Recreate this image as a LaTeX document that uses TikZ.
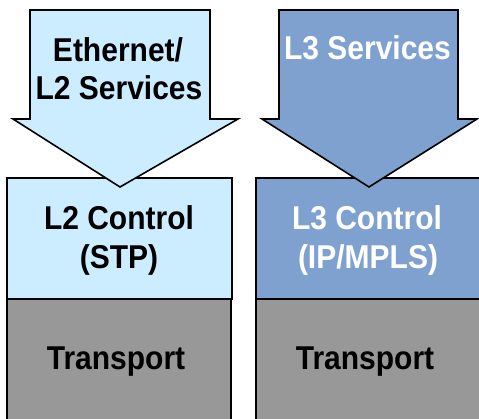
\documentclass[tikz,border=0pt]{standalone}
\usepackage{fontspec}
\setmainfont{Liberation Sans}
\begin{document}
\begin{tikzpicture}[x=1pt,y=-1pt,
  lay/.style={draw=black,line width=1.6pt},
  lbl/.style={font=\bfseries\fontsize{30}{34}\selectfont,anchor=base,inner sep=0pt},
  stretch/.style={yscale=1.1,transform shape}]
\definecolor{lblue}{HTML}{CCECFF}
\definecolor{dblue}{HTML}{7FA1CF}
\definecolor{tgray}{HTML}{989898}
\useasboundingbox (0,0) rectangle (479,419);
\clip (0,0) rectangle (479,419);
% left column
\filldraw[lay,fill=tgray] (7,299) rectangle (231,425);
\filldraw[lay,fill=lblue] (7,178) rectangle (232,299);
\filldraw[lay,fill=lblue,line join=miter] (30,10) -- (210,10) -- (210,119) -- (238,119) -- (120,187) -- (13,119) -- (30,119) -- cycle;
% right column
\filldraw[lay,fill=tgray] (256,299) rectangle (490,425);
\filldraw[lay,fill=dblue] (256,178) rectangle (490,299);
\filldraw[lay,fill=dblue,line join=miter] (279,10) -- (458,10) -- (458,119) -- (477,119) -- (369,187) -- (262,119) -- (279,119) -- cycle;
% labels
\node[lbl,stretch] (eth) at (118,62) {Ethernet/};
\node[lbl,stretch] (l2s) at (119,100) {L2 Services};
\node[lbl,stretch,white] (l3s) at (367.5,60) {L3 Services};
\node[lbl,stretch] (l2c) at (119,230) {L2 Control};
\node[lbl,stretch] (stp) at (119,269) {(STP)};
\node[lbl,stretch,white] (l3c) at (367,230) {L3 Control};
\node[lbl,stretch,white] (mpls) at (368,269) {(IP/MPLS)};
\node[lbl,stretch] (tr1) at (116,370) {Transport};
\node[lbl,stretch] (tr2) at (365,370) {Transport};
\end{tikzpicture}
\end{document}
